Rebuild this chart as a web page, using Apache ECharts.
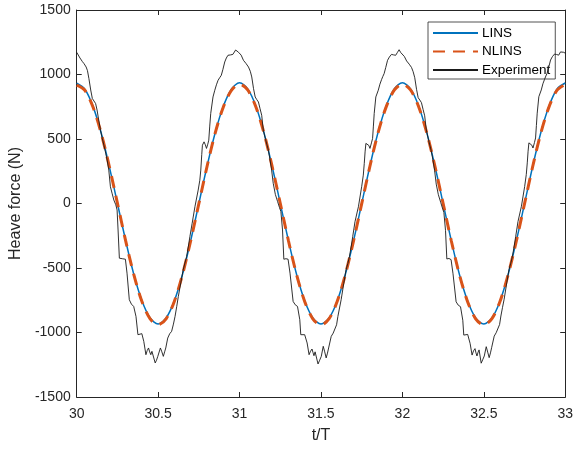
<!DOCTYPE html>
<html>
<head>
<meta charset="utf-8">
<script src="https://cdn.jsdelivr.net/npm/echarts@6/dist/echarts.min.js"></script>
<style>
  html, body { margin: 0; padding: 0; background: #fff; }
  #chart { width: 576px; height: 450px; }
</style>
</head>
<body>
<div id="chart"></div>
<script>
// Time samples (t/T) for the two numerical solutions
var simT = [
  30.00, 30.05, 30.10, 30.15, 30.20, 30.25, 30.30, 30.35, 30.40, 30.45,
  30.50, 30.55, 30.60, 30.65, 30.70, 30.75, 30.80, 30.85, 30.90, 30.95,
  31.00, 31.05, 31.10, 31.15, 31.20, 31.25, 31.30, 31.35, 31.40, 31.45,
  31.50, 31.55, 31.60, 31.65, 31.70, 31.75, 31.80, 31.85, 31.90, 31.95,
  32.00, 32.05, 32.10, 32.15, 32.20, 32.25, 32.30, 32.35, 32.40, 32.45,
  32.50, 32.55, 32.60, 32.65, 32.70, 32.75, 32.80, 32.85, 32.90, 32.95,
  33.00
];

// Heave force (N), linear solution
var linsForce = [
  932, 886, 753, 548, 288, 2, -285, -546, -752, -886,
  -934, -886, -753, -548, -288, -1, 287, 547, 752, 886,
  936, 889, 756, 549, 289, 1, -287, -548, -754, -887,
  -935, -887, -755, -549, -289, -2, 287, 548, 754, 888,
  936, 889, 756, 549, 289, 1, -287, -548, -754, -887,
  -934, -887, -755, -549, -289, -2, 287, 548, 754, 888,
  934
];

// Heave force (N), nonlinear solution
var nlinsForce = [
  918, 878, 748, 546, 288, 3, -286, -548, -758, -893,
  -940, -892, -757, -549, -289, -2, 285, 544, 746, 877,
  925, 880, 750, 547, 288, 2, -287, -550, -759, -894,
  -942, -893, -758, -550, -290, -3, 285, 545, 747, 878,
  925, 880, 750, 547, 288, 2, -287, -550, -759, -894,
  -941, -893, -758, -550, -290, -3, 285, 545, 747, 878,
  922
];

// Measured heave force: time stamps (t/T)
var expT = [
  30.000, 30.008, 30.020, 30.035, 30.045, 30.058, 30.066, 30.075, 30.086, 30.096,
  30.106, 30.116, 30.125, 30.132, 30.146, 30.157, 30.167, 30.178, 30.187, 30.197,
  30.207, 30.218, 30.228, 30.240, 30.248, 30.254, 30.262, 30.280, 30.299, 30.309,
  30.323, 30.336, 30.350, 30.364, 30.376, 30.388, 30.400, 30.412, 30.425, 30.433,
  30.441, 30.448, 30.455, 30.462, 30.468, 30.482, 30.490, 30.498, 30.514, 30.523,
  30.532, 30.540, 30.547, 30.559, 30.571, 30.583, 30.594, 30.604, 30.614, 30.624,
  30.640, 30.654, 30.665, 30.675, 30.686, 30.695, 30.709, 30.726, 30.746, 30.756,
  30.762, 30.768, 30.772, 30.782, 30.790, 30.797, 30.805, 30.811, 30.817, 30.823,
  30.837, 30.848, 30.858, 30.868, 30.878, 30.888, 30.898, 30.909, 30.919, 30.929,
  30.945, 30.959, 30.970, 30.976, 30.985, 30.994,
  31.010, 31.024, 31.040, 31.055, 31.066, 31.075, 31.086, 31.096, 31.106, 31.116,
  31.126, 31.136, 31.146, 31.160, 31.177, 31.187, 31.197, 31.207, 31.220, 31.234,
  31.245, 31.254, 31.264, 31.272, 31.285, 31.298, 31.310, 31.329, 31.342, 31.356,
  31.370, 31.376, 31.388, 31.400, 31.415, 31.427, 31.436, 31.445, 31.451, 31.457,
  31.464, 31.470, 31.482, 31.492, 31.502, 31.514, 31.523, 31.532, 31.540, 31.547,
  31.563, 31.575, 31.587, 31.596, 31.604, 31.614, 31.624, 31.640, 31.654, 31.665,
  31.675, 31.686, 31.695, 31.709, 31.730, 31.750, 31.760, 31.766, 31.771, 31.776,
  31.786, 31.794, 31.801, 31.810, 31.817, 31.822, 31.827, 31.837, 31.852, 31.862,
  31.872, 31.880, 31.888, 31.898, 31.909, 31.920, 31.933, 31.946, 31.959, 31.970,
  31.980, 31.990,
  32.000, 32.012, 32.026, 32.042, 32.056, 32.066, 32.076, 32.087, 32.097, 32.107,
  32.117, 32.127, 32.137, 32.147, 32.161, 32.177, 32.188, 32.198, 32.208, 32.221,
  32.235, 32.246, 32.255, 32.265, 32.273, 32.286, 32.299, 32.311, 32.330, 32.343,
  32.357, 32.371, 32.377, 32.389, 32.401, 32.416, 32.428, 32.437, 32.446, 32.452,
  32.458, 32.465, 32.471, 32.484, 32.493, 32.503, 32.515, 32.524, 32.533, 32.541,
  32.548, 32.564, 32.576, 32.588, 32.597, 32.605, 32.615, 32.625, 32.641, 32.655,
  32.666, 32.676, 32.687, 32.696, 32.710, 32.731, 32.751, 32.761, 32.767, 32.772,
  32.777, 32.787, 32.795, 32.802, 32.811, 32.818, 32.823, 32.828, 32.838, 32.853,
  32.863, 32.873, 32.881, 32.889, 32.899, 32.910, 32.921, 32.934, 32.947, 32.960,
  32.971, 32.981, 32.991, 33.000
];

// Measured heave force (N)
var expForce = [
  1172, 1160, 1128, 1100, 1084, 1058, 1030, 968, 880, 814,
  800, 775, 725, 671, 568, 505, 452, 390, 336, 259,
  130, 75, 27, -10, -50, -205, -424, -428, -432, -540,
  -746, -780, -798, -875, -1017, -1002, -1009, -1069, -1172, -1140,
  -1120, -1150, -1172, -1146, -1160, -1236, -1215, -1185, -1120, -1150,
  -1185, -1150, -1120, -1043, -1010, -991, -935, -875, -800, -721,
  -610, -514, -460, -411, -330, -257, -153, -25, 104, 180,
  259, 380, 452, 478, 455, 427, 460, 491, 600, 698,
  826, 878, 920, 955, 975, 994, 1040, 1097, 1128, 1149,
  1152, 1156, 1170, 1190, 1178, 1172,
  1150, 1110, 1085, 1058, 1025, 981, 890, 826, 805, 787,
  735, 684, 568, 495, 414, 340, 259, 156, 70, 14,
  -30, -63, -205, -432, -428, -432, -540, -759, -785, -798,
  -901, -1017, -1005, -1017, -1081, -1172, -1145, -1128, -1155, -1180,
  -1150, -1138, -1244, -1215, -1185, -1107, -1150, -1197, -1160, -1120,
  -1030, -1005, -991, -940, -875, -810, -746, -620, -514, -465,
  -411, -330, -257, -141, -25, 130, 220, 311, 400, 466,
  478, 450, 427, 470, 504, 600, 698, 826, 878, 925,
  960, 985, 1007, 1055, 1110, 1135, 1156, 1152, 1149, 1172,
  1192, 1170,
  1166, 1140, 1105, 1080, 1055, 1022, 975, 885, 820, 802,
  782, 730, 680, 570, 490, 410, 335, 255, 150, 68,
  10, -35, -70, -210, -430, -426, -435, -545, -762, -788,
  -800, -905, -1020, -1008, -1015, -1085, -1175, -1142, -1125, -1158,
  -1182, -1152, -1135, -1238, -1212, -1182, -1110, -1152, -1195, -1158,
  -1118, -1028, -1002, -988, -938, -872, -805, -742, -615, -510,
  -462, -408, -328, -255, -140, -22, 132, 225, 315, 405,
  470, 480, 452, 430, 472, 508, 605, 700, 828, 880,
  928, 962, 988, 1010, 1058, 1112, 1138, 1158, 1155, 1150,
  1175, 1190, 1172, 1165
];

var seriesNames = ['LINS', 'NLINS', 'Experiment'];

function pairs(xs, ys) {
  return xs.map(function (x, i) { return [x, ys[i]]; });
}

var axisColor = '#262626';
var labelFont = 'Arial, "Liberation Sans", Helvetica, sans-serif';

var chart = echarts.init(document.getElementById('chart'), null, { renderer: 'canvas' });

var boxAxisX = {
  type: 'value', min: 30, max: 33, interval: 0.5,
  axisLine: { show: true, onZero: false, lineStyle: { color: axisColor, width: 1 } },
  axisTick: { show: true, inside: true, length: 5, lineStyle: { color: axisColor, width: 1 } },
  splitLine: { show: false }
};
var boxAxisY = {
  type: 'value', min: -1500, max: 1500, interval: 500,
  axisLine: { show: true, onZero: false, lineStyle: { color: axisColor, width: 1 } },
  axisTick: { show: true, inside: true, length: 5, lineStyle: { color: axisColor, width: 1 } },
  splitLine: { show: false }
};

chart.setOption({
  animation: false,
  backgroundColor: '#ffffff',
  grid: { left: 75, right: 9, top: 10, bottom: 53, containLabel: false },
  legend: {
    data: seriesNames,
    orient: 'vertical',
    left: 428,
    top: 22,
    itemWidth: 45,
    itemHeight: 14,
    itemGap: 4.5,
    padding: [4, 5, 2, 4],
    borderColor: axisColor,
    borderWidth: 0.8,
    borderRadius: 0,
    backgroundColor: '#ffffff',
    // line-only keys: hide the marker drawn in the middle of each key
    itemStyle: { opacity: 0, borderWidth: 0 },
    textStyle: { fontFamily: labelFont, fontSize: 13.5, color: '#000000', padding: [0, 0, 0, -1] }
  },
  xAxis: [
    Object.assign({}, boxAxisX, {
      position: 'bottom',
      axisLabel: { show: true, fontFamily: labelFont, fontSize: 14, color: axisColor, margin: 10 },
      name: 't/T',
      nameLocation: 'middle',
      nameGap: 31,
      nameTextStyle: { fontFamily: labelFont, fontSize: 16, color: axisColor }
    }),
    Object.assign({}, boxAxisX, { position: 'top', axisLabel: { show: false } })
  ],
  yAxis: [
    Object.assign({}, boxAxisY, {
      position: 'left',
      axisLabel: {
        show: true, fontFamily: labelFont, fontSize: 14, color: axisColor, margin: 6,
        formatter: function (v) { return String(v); }
      },
      name: 'Heave force (N)',
      nameLocation: 'middle',
      nameRotate: 90,
      nameGap: 44,
      nameTextStyle: { fontFamily: labelFont, fontSize: 16, color: axisColor }
    }),
    Object.assign({}, boxAxisY, { position: 'right', axisLabel: { show: false } })
  ],
  series: [
    {
      name: 'LINS', type: 'line', xAxisIndex: 0, yAxisIndex: 0,
      data: pairs(simT, linsForce),
      symbol: 'none', smooth: 0.3,
      lineStyle: { color: '#0072BD', width: 1.5 },
      itemStyle: { color: '#0072BD' },
      z: 2
    },
    {
      name: 'NLINS', type: 'line', xAxisIndex: 0, yAxisIndex: 0,
      data: pairs(simT, nlinsForce),
      symbol: 'none', smooth: 0.3,
      lineStyle: { color: '#D95319', width: 3, type: [12, 8] },
      itemStyle: { color: '#D95319' },
      z: 3
    },
    {
      name: 'Experiment', type: 'line', xAxisIndex: 0, yAxisIndex: 0,
      data: pairs(expT, expForce),
      symbol: 'none',
      lineStyle: { color: '#1a1a1a', width: 0.9 },
      itemStyle: { color: '#1a1a1a' },
      z: 4
    }
  ]
});
</script>
</body>
</html>
